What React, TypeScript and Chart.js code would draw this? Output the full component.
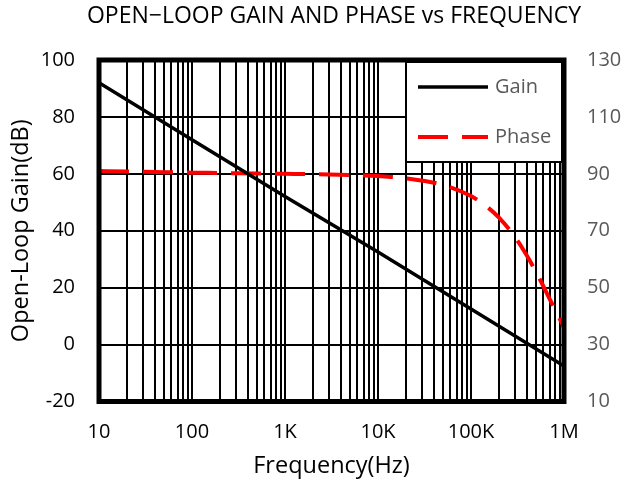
import { useEffect, useRef } from 'react';
import { Chart, registerables } from 'chart.js';

Chart.register(...registerables);

const FONT = "'Open Sans', sans-serif";
const TITLE = 'OPEN−LOOP GAIN AND PHASE vs FREQUENCY';
const X_TITLE = 'Frequency(Hz)';
const Y_TITLE = 'Open-Loop Gain(dB)';

// Gain (left axis, dB)
const gainFreq = [10, 100, 1000, 10000, 100000, 1000000];
const gainDb = [92, 72, 52, 32.5, 12.5, -7.5];

// Phase (right axis, degrees)
const phaseFreq = [10, 20, 50, 100, 200, 500, 1000, 2000, 5000, 10000, 20000, 50000, 100000, 150000, 200000, 300000, 400000, 500000, 600000, 700000, 800000, 900000, 1000000];
const phaseDeg = [91, 90.8, 90.6, 90.4, 90.3, 90.1, 90, 89.9, 89.6, 89.2, 88.4, 86.1, 82.2, 78.3, 74.6, 67.6, 61.2, 55.5, 50.5, 46.1, 42.3, 39, 36];

// Axis ticks
const xTickValues = [10, 100, 1000, 10000, 100000, 1000000];
const xTickLabels = ['10', '100', '1K', '10K', '100K', '1M'];
const xMinorSteps = [1, 2, 3, 4, 5, 6, 7, 8, 9];
const yLeftRange = [-20, 100];
const yRightRange = [10, 130];
const yStep = 20;

const seriesNames = ['Gain', 'Phase'];

const frameAndLegend = {
  id: 'frameAndLegend',
  afterDatasetsDraw(chart: any) {
    const { ctx, chartArea: a } = chart;
    ctx.save();
    ctx.strokeStyle = '#000';
    ctx.lineWidth = 5;
    ctx.strokeRect(a.left, a.top, a.right - a.left, a.bottom - a.top);

    // legend box
    const w = 156;
    const h = 100;
    const lx = a.right - 2 - w;
    const ly = a.top + 2;
    ctx.fillStyle = '#fff';
    ctx.fillRect(lx, ly, w, h);
    ctx.lineWidth = 2;
    ctx.strokeStyle = '#000';
    ctx.strokeRect(lx, ly, w, h);
    chart.data.datasets.forEach((ds: any, i: number) => {
      const y = ly + 25 + i * 50;
      ctx.beginPath();
      ctx.strokeStyle = ds.borderColor;
      ctx.lineWidth = ds.borderWidth;
      ctx.setLineDash(ds.borderDash || []);
      ctx.lineCap = 'butt';
      ctx.moveTo(lx + 12, y);
      ctx.lineTo(lx + 82, y);
      ctx.stroke();
      ctx.setLineDash([]);
      ctx.fillStyle = '#595959';
      ctx.font = `20px ${FONT}`;
      ctx.textAlign = 'left';
      ctx.textBaseline = 'middle';
      ctx.fillText(ds.label, lx + 89, y);
    });
    ctx.restore();
  },
};

export default function App() {
  const ref = useRef<HTMLCanvasElement | null>(null);

  useEffect(() => {
    if (!ref.current) return;
    const gridValues: number[] = [];
    xTickValues.forEach((d, i) => {
      if (i === xTickValues.length - 1) gridValues.push(d);
      else xMinorSteps.forEach((k) => gridValues.push(d * k));
    });

    const chart = new Chart(ref.current, {
      type: 'line',
      data: {
        datasets: [
          {
            label: seriesNames[0],
            data: gainFreq.map((f, i) => ({ x: f, y: gainDb[i] })),
            borderColor: '#000',
            borderWidth: 3.5,
            pointRadius: 0,
            yAxisID: 'y',
          },
          {
            label: seriesNames[1],
            data: phaseFreq.map((f, i) => ({ x: f, y: phaseDeg[i] })),
            borderColor: '#ff0000',
            borderWidth: 4,
            borderDash: [30, 14],
            pointRadius: 0,
            cubicInterpolationMode: 'monotone',
            yAxisID: 'y1',
          },
        ],
      },
      options: {
        responsive: false,
        animation: false,
        layout: { padding: { left: 42, right: 0, top: 0, bottom: 0 } },
        plugins: {
          legend: { display: false },
          tooltip: { enabled: false },
          title: {
            display: true,
            text: TITLE,
            color: '#000',
            font: { family: FONT, size: 23, weight: 'normal' },
            padding: { top: 3, bottom: 29.4 },
          },
        },
        scales: {
          x: {
            type: 'logarithmic',
            min: xTickValues[0],
            max: xTickValues[xTickValues.length - 1],
            afterBuildTicks: (s: any) => {
              s.ticks = gridValues.map((v) => ({ value: v }));
            },
            afterFit: (s: any) => {
              s.height = 80.5;
            },
            ticks: {
              autoSkip: false,
              maxRotation: 0,
              minRotation: 0,
              padding: 19,
              color: '#000',
              font: { family: FONT, size: 20 },
              callback: (v: any) => {
                const idx = xTickValues.indexOf(Number(v));
                return idx >= 0 ? xTickLabels[idx] : '';
              },
            },
            grid: { color: '#000', lineWidth: 2, drawTicks: false },
            border: { display: false },
            title: {
              display: true,
              text: X_TITLE,
              color: '#000',
              font: { family: FONT, size: 23.5 },
              padding: { top: 0, bottom: 2 },
            },
          },
          y: {
            position: 'left',
            min: yLeftRange[0],
            max: yLeftRange[1],
            afterFit: (s: any) => {
              s.width = 57;
            },
            ticks: {
              stepSize: yStep,
              padding: 24,
              color: '#000',
              font: { family: FONT, size: 20 },
            },
            grid: { color: '#000', lineWidth: 2, drawTicks: false },
            border: { display: false },
            title: {
              display: true,
              text: Y_TITLE,
              color: '#000',
              font: { family: FONT, size: 23.5 },
              padding: { top: -35, bottom: 0 },
            },
          },
          y1: {
            position: 'right',
            min: yRightRange[0],
            max: yRightRange[1],
            afterFit: (s: any) => {
              s.width = 62;
            },
            ticks: {
              stepSize: yStep,
              padding: 23,
              color: '#595959',
              font: { family: FONT, size: 20 },
            },
            grid: { display: false, drawTicks: false },
            border: { display: false },
          },
        },
      } as any,
      plugins: [frameAndLegend],
    });
    return () => chart.destroy();
  }, []);

  return (
    <div style={{ position: 'fixed', left: 0, top: 0, width: 626, height: 482, background: '#fff' }}>
      <canvas ref={ref} width={626} height={482} style={{ display: 'block' }} />
    </div>
  );
}
